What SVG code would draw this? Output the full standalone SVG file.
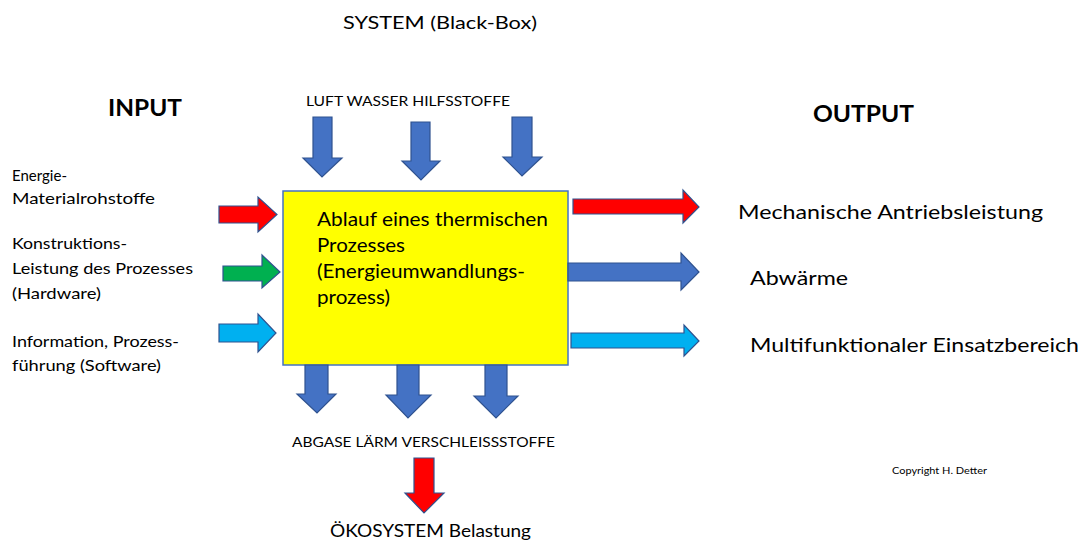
<svg xmlns="http://www.w3.org/2000/svg" width="1083" height="541" viewBox="0 0 1083 541">
<style>
text{font-family:Lato,"Liberation Sans",Arial,sans-serif;fill:#000}
.arr{stroke:#2F528F;stroke-width:1.2;stroke-linejoin:miter}
.blue{fill:#4472C4}
.red{fill:#FF0000}
.green{fill:#00B050}
.cyan{fill:#00B0F0}
.lbl{font-size:15px}
.big{font-size:20px}
.cap{font-size:14px}
.hd{font-size:23px;font-weight:bold}
</style>
<rect width="1083" height="541" fill="#fff"/>
<g id="title"><text x="343" y="29" font-size="18" textLength="194" lengthAdjust="spacingAndGlyphs">SYSTEM (Black-Box)</text></g>
<g id="input-label"><text class="hd" x="108" y="116" textLength="74" lengthAdjust="spacingAndGlyphs">INPUT</text></g>
<g id="output-label"><text class="hd" x="813" y="122" textLength="101" lengthAdjust="spacingAndGlyphs">OUTPUT</text></g>
<g id="box">
<rect x="283" y="191" width="285" height="174" fill="#FFFF00" stroke="#4472C4" stroke-width="1.5"/>
<text font-size="19" x="317" y="226" textLength="231" lengthAdjust="spacingAndGlyphs">Ablauf eines thermischen</text>
<text font-size="19" x="317" y="252" textLength="88" lengthAdjust="spacingAndGlyphs">Prozesses</text>
<text font-size="19" x="317" y="278" textLength="208" lengthAdjust="spacingAndGlyphs">(Energieumwandlungs-</text>
<text font-size="19" x="317" y="304" textLength="73" lengthAdjust="spacingAndGlyphs">prozess)</text>
</g>
<g id="input-texts">
<text class="lbl" x="12" y="181" textLength="55" lengthAdjust="spacingAndGlyphs">Energie-</text>
<text class="lbl" x="12" y="204" textLength="143" lengthAdjust="spacingAndGlyphs">Materialrohstoffe</text>
<text class="lbl" x="12" y="249" textLength="115" lengthAdjust="spacingAndGlyphs">Konstruktions-</text>
<text class="lbl" x="12" y="274" textLength="181" lengthAdjust="spacingAndGlyphs">Leistung des Prozesses</text>
<text class="lbl" x="12" y="299" textLength="89" lengthAdjust="spacingAndGlyphs">(Hardware)</text>
<text class="lbl" x="12" y="347" textLength="167" lengthAdjust="spacingAndGlyphs">Information, Prozess-</text>
<text class="lbl" x="12" y="371" textLength="149" lengthAdjust="spacingAndGlyphs">führung (Software)</text>
</g>
<g id="output-texts">
<text class="big" x="738" y="219" textLength="305" lengthAdjust="spacingAndGlyphs">Mechanische Antriebsleistung</text>
<text class="big" x="750" y="285" textLength="98" lengthAdjust="spacingAndGlyphs">Abwärme</text>
<text class="big" x="750" y="352" textLength="329" lengthAdjust="spacingAndGlyphs">Multifunktionaler Einsatzbereich</text>
</g>
<g id="top-label"><text class="cap" x="306" y="106" textLength="204" lengthAdjust="spacingAndGlyphs">LUFT WASSER HILFSSTOFFE</text></g>
<g id="bottom-label"><text class="cap" x="292" y="447" textLength="263" lengthAdjust="spacingAndGlyphs">ABGASE LÄRM VERSCHLEISSSTOFFE</text></g>
<g id="eco-label"><text font-size="18" x="330" y="537" textLength="201" lengthAdjust="spacingAndGlyphs">ÖKOSYSTEM Belastung</text></g>
<g id="copyright"><text font-size="9" x="892" y="474" textLength="95" lengthAdjust="spacingAndGlyphs">Copyright  H. Detter</text></g>
<g id="connectors">
<path class="arr blue" d="M313,117 H332 V158 H342 L322,177 L303,158 H313 Z"/>
<path class="arr blue" d="M411,122 H430 V161 H440 L421,180 L402,161 H411 Z"/>
<path class="arr blue" d="M512,117 H532 V157 H542 L522,176 L503,157 H512 Z"/>
<path class="arr red" d="M219,206 H258 V197 L277,214.5 L258,232 V223 H219 Z"/>
<path class="arr green" d="M223,266 H262 V255 L280,272 L262,288 V281 H223 Z"/>
<path class="arr cyan" d="M219,324 H258 V314 L276,333 L258,352 V342 H219 Z"/>
<path class="arr red" d="M573,199 H683 V190 L699,207 L683,223 V214 H573 Z"/>
<path class="arr blue" d="M568,263 H681 V253 L699,272 L681,290 V281 H568 Z"/>
<path class="arr cyan" d="M571,333 H684 V325 L699,341 L684,356 V348 H571 Z"/>
<path class="arr blue" d="M305,365 H328 V394 H336 L317,413 L297,394 H305 Z"/>
<path class="arr blue" d="M397,365 H419 V395 H431 L408,418 L386,395 H397 Z"/>
<path class="arr blue" d="M485,365 H507 V396 H518 L496,418 L474,396 H485 Z"/>
<path class="arr red" d="M414,458 H434 V493 H444 L424,513 L405,493 H414 Z"/>
</g>
</svg>
